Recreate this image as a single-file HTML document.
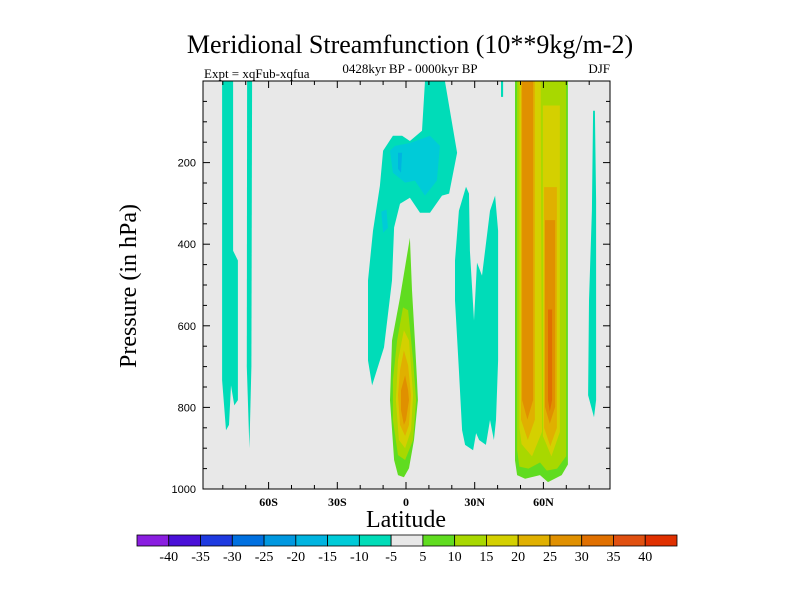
<!DOCTYPE html>
<html><head><meta charset="utf-8"><style>
body{margin:0;background:#fff}
svg{display:block}
</style></head><body>
<svg id="chart" width="800" height="600" xmlns="http://www.w3.org/2000/svg">
<text x="410" y="53" text-anchor="middle" font-family="Liberation Serif, serif" font-size="26">Meridional Streamfunction (10**9kg/m-2)</text>
<text x="410" y="73" text-anchor="middle" font-family="Liberation Serif, serif" font-size="13">0428kyr BP - 0000kyr BP</text>
<text x="204" y="78" font-family="Liberation Serif, serif" font-size="13">Expt = xqFub-xqfua</text>
<text x="610" y="73" text-anchor="end" font-family="Liberation Serif, serif" font-size="13">DJF</text>
<text transform="translate(136,286) rotate(-90)" text-anchor="middle" font-family="Liberation Serif, serif" font-size="24">Pressure (in hPa)</text>
<text x="406" y="527" text-anchor="middle" font-family="Liberation Serif, serif" font-size="24">Latitude</text>
<rect x="203" y="81" width="407" height="408" fill="#e8e8e8"/>
<clipPath id="clip"><rect x="203" y="81" width="407" height="408"/></clipPath>
<g id="contours" clip-path="url(#clip)"></g>
<g id="axes"></g>
<g id="colorbar"></g>
</svg>
<script>
const levels=[-40,-35,-30,-25,-20,-15,-10,-5,5,10,15,20,25,30,35,40];
const colors=['#8a1ee0','#4a10d8','#1e3ae0','#0070e0','#0098e0','#00b4e0','#00cbd8','#00dcb8','#e8e8e8','#60dc20','#a8d800','#d4d000','#e0b000','#e09000','#e07000','#e05010','#e03000'];
const latTicks=[-60,-30,0,30,60];
const latLabels=['60S','30S','0','30N','60N'];
const presTicks=[200,400,600,800,1000];
// contour regions: fill band index, vertices [lat, pressure]
const regionBands=[7,7,7,6,6,5,7,7,7,9,10,11,11,12,12,13,13,14,9,10,11,12,13];
const regionShapes=[
[[-80.3,0],[-75.5,0],[-75.5,416],[-73.4,440],[-73.4,782],[-75,795],[-76.4,746],[-77.3,843],[-78.6,856],[-80.3,733]],
[[-69.4,0],[-67.2,0],[-67.5,700],[-68.4,900],[-69.5,700]],
[[8.3,0],[17,0],[22.3,176],[18.8,276],[15.7,281],[10.5,323],[6.1,323],[1.7,286],[-2.6,301],[-5.2,359],[-6.1,489],[-9.6,653],[-14.8,746],[-16.6,685],[-16.6,489],[-14.4,367],[-11.4,257],[-10,171],[-5.7,134],[-1.7,134],[1.7,147],[7,122]],
[[-7,171],[-4.8,159],[1.7,152],[10.5,134],[14.8,159],[13.5,244],[8.3,281],[3.9,244],[-0.4,249],[-5.7,225]],
[[-10.8,320],[-8.5,315],[-7.9,360],[-10,372]],
[[-3.5,176],[-1.7,176],[-2.2,225],[-3.5,215]],
[[21.4,440],[23.1,318],[26.2,259],[27.5,276],[27.9,416],[29.7,587],[31,445],[33.2,477],[36.7,318],[38.9,281],[40.2,367],[40.2,685],[39.3,831],[38.4,880],[36.7,831],[34.9,892],[31.9,880],[30.6,863],[29.3,905],[25.8,892],[24.5,856],[23.1,709],[21.4,538]],
[[81.7,73],[82.5,73],[83,293],[83,782],[82.1,824],[79.5,770],[79.9,538],[81.2,318]],
[[41.5,0],[42.4,0],[42.4,39],[41.5,39]],
[[47.6,0],[70.7,0],[70.7,940],[68,966],[62,983],[58.5,966],[52,975],[48.5,966],[47.6,930]],
[[48.5,0],[69.9,0],[69.9,920],[66,950],[61.5,955],[58.5,935],[53.5,950],[49.5,945],[48.5,905]],
[[49.5,0],[58.8,0],[59.4,860],[55,920],[50.5,890],[49.5,850]],
[[59.8,60],[67.2,60],[67.2,860],[63.5,920],[59.8,870]],
[[50.2,0],[56.3,0],[56.3,830],[53.2,880],[50.2,830]],
[[60.3,260],[65.9,260],[65.9,850],[63,895],[60.3,850]],
[[50.7,0],[55.5,0],[55.5,782],[53,830],[50.7,782]],
[[60.7,341],[65.1,341],[65.1,799],[62.8,840],[60.7,799]],
[[62,560],[63.8,560],[63.8,782],[62.8,810],[62,782]],
[[1.7,384],[-2.6,531],[-6.1,636],[-7,782],[-5.2,929],[-3.5,966],[-0.9,971],[1.3,949],[3.5,880],[5.2,782],[4.8,733],[3.9,636],[2.6,513]],
[[-1.3,555],[0.9,562],[3.1,685],[4.4,782],[3.1,880],[-0.4,929],[-3.5,917],[-5.7,831],[-5.7,733],[-3.9,636]],
[[-0.9,611],[1.3,636],[3.1,770],[2.2,856],[-0.4,900],[-3.1,880],[-4.4,782],[-3.5,685]],
[[-0.9,660],[0.9,697],[2.2,770],[1.3,843],[-0.4,870],[-2.6,843],[-3.5,770],[-2.6,709]],
[[-0.4,721],[0.9,758],[1.3,782],[0,831],[-0.9,843],[-2.2,807],[-2.2,758]]
];
const NS='http://www.w3.org/2000/svg';
const X0=406,XS=2.29,Y0=81,YS=0.408;
function xS(lat){return X0+lat*XS;}
function yS(p){return Y0+p*YS;}
function mk(tag,attrs,parent){const e=document.createElementNS(NS,tag);for(const k in attrs)e.setAttribute(k,attrs[k]);parent.appendChild(e);return e;}
const cg=document.getElementById('contours');
regionShapes.forEach((sh,i)=>{
  const pts=sh.map(v=>xS(v[0]).toFixed(1)+','+yS(v[1]).toFixed(1)).join(' ');
  const el=mk('polygon',{points:pts,fill:colors[regionBands[i]]},cg);
  
  
});
const ax=document.getElementById('axes');
const fr=mk('rect',{x:203,y:81,width:407,height:408,fill:'none',stroke:'#000','stroke-width':1},ax);


for(let lat=-80;lat<=80;lat+=10){
  const x=xS(lat),len=(lat%30===0)?7:4;
  mk('line',{x1:x,x2:x,y1:489,y2:489-len,stroke:'#000'},ax);
  mk('line',{x1:x,x2:x,y1:81,y2:81+len,stroke:'#000'},ax);
}
latTicks.forEach((lat,i)=>{
  const t=mk('text',{x:xS(lat),y:506,'text-anchor':'middle','font-family':'Liberation Serif, serif','font-size':12,'font-weight':'bold'},ax);
  t.textContent=latLabels[i];
  
  
});
for(let p=50;p<=950;p+=50){
  const y=yS(p),len=(p%200===0)?7:4;
  mk('line',{x1:203,x2:203+len,y1:y,y2:y,stroke:'#000'},ax);
  mk('line',{x1:610,x2:610-len,y1:y,y2:y,stroke:'#000'},ax);
}
presTicks.forEach(p=>{
  const t=mk('text',{x:196,y:yS(p)+4,'text-anchor':'end','font-family':'Liberation Sans, sans-serif','font-size':11},ax);
  t.textContent=p;
  
  
});
const cb=document.getElementById('colorbar');
const bx=137,bw=540/colors.length;
colors.forEach((c,i)=>{
  const r=mk('rect',{x:bx+i*bw,y:535,width:bw,height:11,fill:c,stroke:'#000','stroke-width':0.8},cb);
  
  
});
levels.forEach((l,i)=>{
  const t=mk('text',{x:bx+(i+1)*bw,y:561,'text-anchor':'middle','font-family':'Liberation Serif, serif','font-size':14},cb);
  t.textContent=l;
  
  
});
</script>
</body></html>
